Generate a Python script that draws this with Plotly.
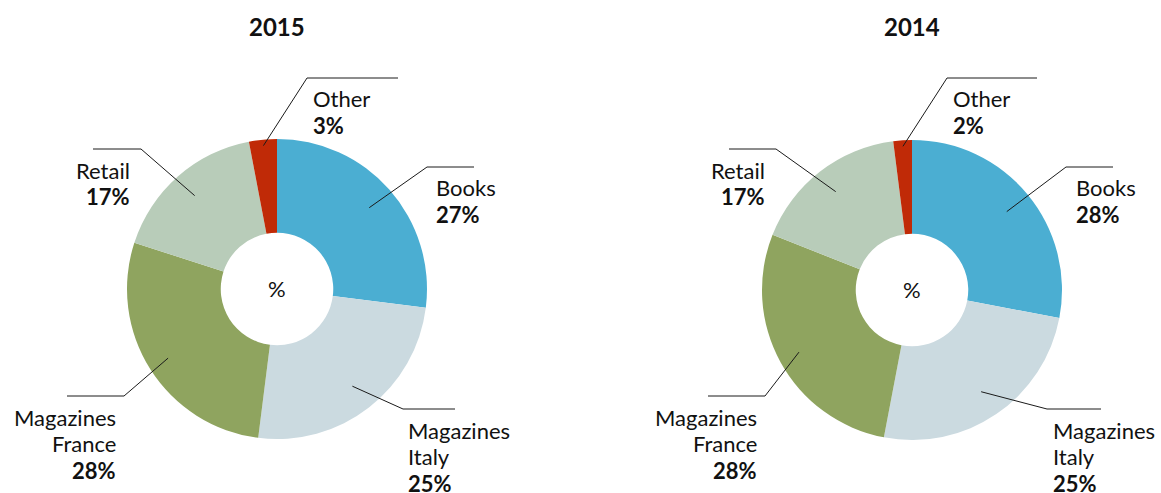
import math
import plotly.graph_objects as go

W, H = 1161, 493

categories = ["Books", "Magazines Italy", "Magazines France", "Retail", "Other"]
label_lines = [["Books"], ["Magazines", "Italy"], ["Magazines", "France"], ["Retail"], ["Other"]]
colors = ["#4BAED2", "#CBDAE0", "#8FA45F", "#B8CCB9", "#C02A07"]
years = ["2015", "2014"]
values_2015 = [27, 25, 28, 17, 3]
values_2014 = [28, 25, 28, 17, 2]
center_label = "%"

# layout (page pixels): donut centres, outer radius, hole fraction
centers = [(277, 289), (912, 290)]
R = 150
HOLE = 0.375
FONT = "Lato"
TXT = "#111111"
FS = 22

# leader-line layout per label: elbow offset from centre (px), tail end dx, text dx, side
label_layout = [
    [  # 2015
        dict(elbow=(150, -122), end=197, tx=157, side="left"),
        dict(elbow=(126, 120), end=178, tx=129, side="left"),
        dict(elbow=(-153, 107), end=-210, tx=-159, side="right"),
        dict(elbow=(-136, -140), end=-184, tx=-145, side="right"),
        dict(elbow=(30, -211), end=121, tx=34, side="left"),
    ],
    [  # 2014
        dict(elbow=(154, -123), end=201, tx=162, side="left"),
        dict(elbow=(135, 119), end=189, tx=139, side="left"),
        dict(elbow=(-147, 106), end=-204, tx=-153, side="right"),
        dict(elbow=(-136, -141), end=-183, tx=-145, side="right"),
        dict(elbow=(35, -212), end=125, tx=39, side="left"),
    ],
]
start_radius = [0.82, 0.82, 0.86, 0.83, 0.96]


def px(x):
    return x / W


def py(y):
    return 1 - y / H


fig = go.Figure()
shapes = []
annotations = []

for k, (year, vals) in enumerate(zip(years, [values_2015, values_2014])):
    cx, cy = centers[k]
    fig.add_trace(go.Pie(
        labels=categories, values=vals, sort=False, direction="clockwise",
        rotation=0, hole=HOLE, textinfo="none", showlegend=False,
        marker=dict(colors=colors, line=dict(width=0)),
        domain=dict(x=[px(cx - R), px(cx + R)], y=[py(cy + R), py(cy - R)]),
        hovertemplate="%{label}: %{value}%<extra>" + year + "</extra>",
    ))
    # title
    annotations.append(dict(x=px(cx), y=py(26), xref="paper", yref="paper",
                            text="<b>" + year + "</b>", showarrow=False,
                            xanchor="center", yanchor="middle",
                            font=dict(family=FONT, size=24, color=TXT)))
    # centre label
    annotations.append(dict(x=px(cx), y=py(cy - 1), xref="paper", yref="paper",
                            text=center_label, showarrow=False,
                            xanchor="center", yanchor="middle",
                            font=dict(family=FONT, size=FS, color=TXT)))
    total = sum(vals)
    cum = 0
    for i, v in enumerate(vals):
        mid = (cum + v / 2) / total * 2 * math.pi
        cum += v
        lay = label_layout[k][i]
        rs = start_radius[i] * R
        sx, sy = cx + rs * math.sin(mid), cy - rs * math.cos(mid)
        ex, ey = cx + lay["elbow"][0], cy + lay["elbow"][1]
        tx_end = cx + lay["end"]
        shapes.append(dict(type="path", xref="paper", yref="paper",
                           path=f"M {px(sx)} {py(sy)} L {px(ex)} {py(ey)} L {px(tx_end)} {py(ey)}",
                           line=dict(color="#1a1a1a", width=1)))
        lines = label_lines[i] + ["<b>%d%%</b>" % v]
        for j, t in enumerate(lines):
            annotations.append(dict(x=px(cx + lay["tx"]), y=py(ey + 21 + j * 26.5),
                                    xref="paper", yref="paper", text=t, showarrow=False,
                                    xanchor=lay["side"], yanchor="middle",
                                    font=dict(family=FONT, size=FS, color=TXT)))

fig.update_layout(
    width=W, height=H, margin=dict(l=0, r=0, t=0, b=0),
    paper_bgcolor="white", plot_bgcolor="white",
    shapes=shapes, annotations=annotations,
)
fig.write_html(
    "out.html",
    config={"displayModeBar": False},
    post_script="document.body.style.margin='0';document.body.style.overflow='hidden';",
)
